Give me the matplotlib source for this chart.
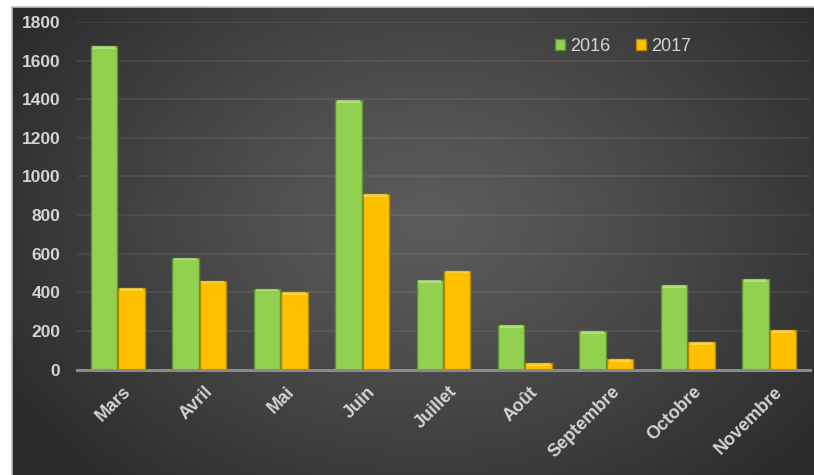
import numpy as np
import matplotlib
matplotlib.use("Agg")
import matplotlib.pyplot as plt
from matplotlib.patches import Patch

months = ["Mars", "Avril", "Mai", "Juin", "Juillet", "Août", "Septembre", "Octobre", "Novembre"]
v2016 = [1675, 580, 419, 1395, 464, 231, 198, 437, 469]
v2017 = [420, 461, 400, 909, 512, 32, 54, 141, 205]
yticks = [0, 200, 400, 600, 800, 1000, 1200, 1400, 1600, 1800]
series_names = ["2016", "2017"]

W, H = 814, 475
fig = plt.figure(figsize=(W / 100, H / 100), dpi=100)
fig.patch.set_facecolor("white")

# background panel with radial gradient
bx0, by0 = 12 / W, 0
bw, bh = 1 - bx0, 1 - 7 / H
bg = fig.add_axes([bx0, by0, bw, bh])
ny, nx = 300, 500
yy, xx = np.mgrid[0:ny, 0:nx]
cx, cy = 0.52 * nx, 0.45 * ny
d = np.sqrt(((xx - cx) / (0.62 * nx)) ** 2 + ((yy - cy) / (0.78 * ny)) ** 2)
d = np.clip(d, 0, 1)
lum = 0.36 - (0.36 - 0.165) * d ** 1.2
img = np.dstack([lum, lum, lum])
bg.imshow(img, aspect="auto", extent=[0, 1, 0, 1], origin="upper", interpolation="bilinear")
bg.set_xlim(0, 1); bg.set_ylim(0, 1)
bg.axis("off")
fig.add_artist(plt.Line2D([bx0, bx0], [0, bh], transform=fig.transFigure, color="#bdbdbd", lw=1.2))
fig.add_artist(plt.Line2D([bx0, 1], [bh, bh], transform=fig.transFigure, color="#bdbdbd", lw=1.2))

# main axes
left, right = 77 / W, 810 / W
top, bottom = 1 - 22 / H, 1 - 369.5 / H
ax = fig.add_axes([left, bottom, right - left, top - bottom])
ax.set_facecolor("none")
x = np.arange(len(months))
bw_ = 0.325
off = 0.168

green, green_edge, green_hi = "#92d050", "#5f8f35", "#c6ee9a"
yel, yel_edge, yel_hi = "#ffc000", "#b88a00", "#ffe566"

for xs, vals, fc, ec, hc in [(x - off, v2016, green, green_edge, green_hi),
                             (x + off, v2017, yel, yel_edge, yel_hi)]:
    vals = np.array(vals)
    ax.bar(xs, vals, width=bw_, color=fc, edgecolor=ec, linewidth=1.0, zorder=3)
    hh = np.minimum(vals * 0.5, 14)
    ax.bar(xs, hh, bottom=vals - hh, width=bw_ * 0.86, color=hc, edgecolor="none",
           linewidth=0, zorder=4, alpha=0.6)

ax.set_xlim(-0.5, len(months) - 0.5)
ax.set_ylim(0, 1800)
ax.set_yticks(yticks)
ax.yaxis.grid(True, color="white", alpha=0.08, lw=1.3, zorder=0)
ax.set_axisbelow(True)
for s in ["top", "right", "left"]:
    ax.spines[s].set_visible(False)
ax.spines["bottom"].set_color("#8a8a8a")
ax.spines["bottom"].set_linewidth(2.2)
ax.spines["bottom"].set_zorder(5)
ax.tick_params(axis="both", length=0)
ax.tick_params(axis="y", pad=12)
for lab in ax.get_yticklabels():
    lab.set_fontfamily("Liberation Sans")
    lab.set_fontweight("bold")
    lab.set_fontsize(12.5)
    lab.set_color("#d4d4d4")
ax.set_xticks(x + 0.06)
ax.set_xticklabels(months, rotation=45, ha="right", va="top", rotation_mode="anchor",
                   fontfamily="Liberation Sans", fontweight="bold", fontsize=13, color="#d4d4d4")
ax.tick_params(axis="x", pad=10)

handles = [Patch(facecolor=green, edgecolor=green_edge, label=series_names[0]),
           Patch(facecolor=yel, edgecolor=yel_edge, label=series_names[1])]
leg = ax.legend(handles=handles, loc="upper left", bbox_to_anchor=(0.63, 1.0), ncol=2,
                frameon=False, handlelength=0.55, handleheight=0.55, handletextpad=0.3,
                columnspacing=1.4, prop={"family": "Liberation Sans", "size": 13})
for t in leg.get_texts():
    t.set_color("#d4d4d4")

fig.savefig("out.png", dpi=100, facecolor=fig.get_facecolor())
